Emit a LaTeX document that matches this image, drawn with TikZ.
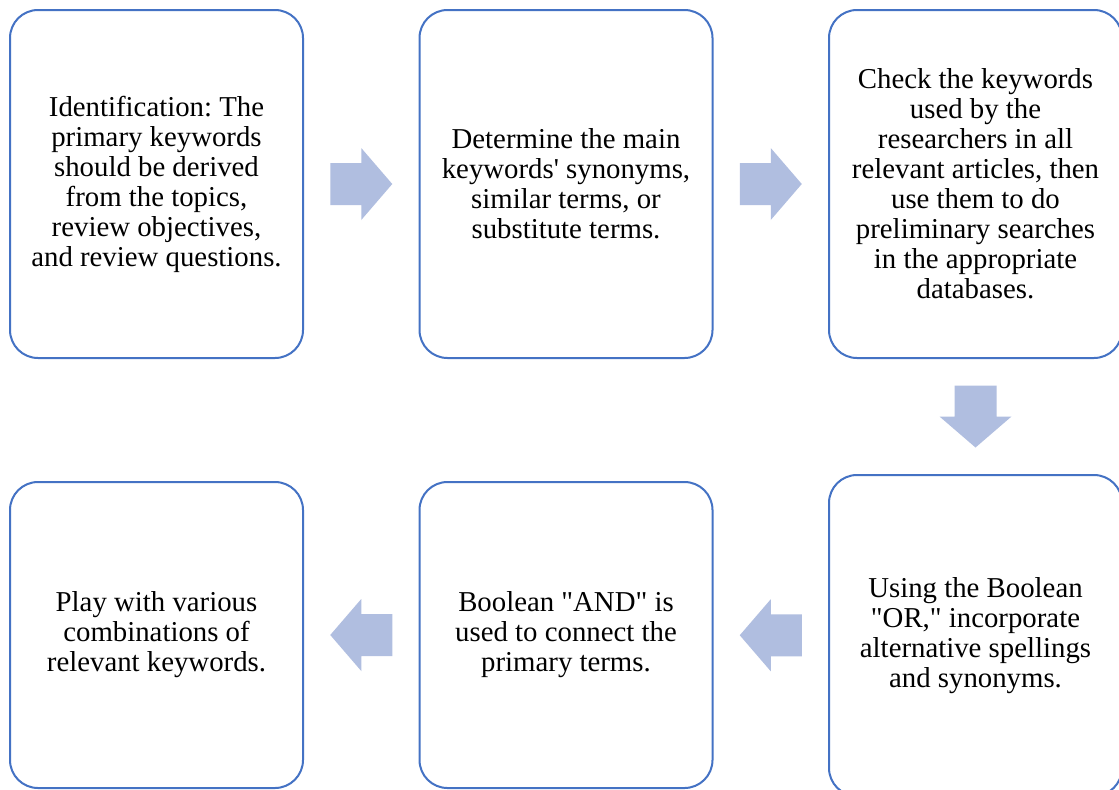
\documentclass[tikz,border=0pt]{standalone}
\usepackage{fontspec}
\setmainfont{Liberation Serif}[Ligatures=TeXOff]
\frenchspacing
\usetikzlibrary{calc}
\definecolor{boxline}{HTML}{4472C4}
\definecolor{arrowfill}{HTML}{B0BEE0}
\tikzset{
  box/.style={draw=boxline, line width=1.5pt, rounded corners=21pt, fill=white,
    minimum width=219.75pt, inner sep=0pt, align=center,
    font=\fontsize{21.6}{22.5}\selectfont},
  blockarr/.pic={\fill[arrowfill] (-31,-21) -- (0,-21) -- (0,-36) -- (31,0) -- (0,36) -- (0,21) -- (-31,21) -- cycle;}
}
\begin{document}
\begin{tikzpicture}[x=0.75pt,y=-0.75pt]
\clip (0,0) rectangle (1119,789);
\fill[white] (0,0) rectangle (1119,789);
\node[box, minimum height=261pt] (b1) at (156.5,184) {Identification: The\\primary keywords\\should be derived\\from the topics,\\review objectives,\\and review questions.};
\node[box, minimum height=261pt] (b2) at (566,184) {Determine the main\\keywords' synonyms,\\similar terms, or\\substitute terms.};
\node[box, minimum height=261pt] (b3) at (975.5,184) {Check the keywords\\used by the\\researchers in all\\relevant articles, then\\use them to do\\preliminary searches\\in the appropriate\\databases.};
\node[box, minimum height=240.75pt] (b6) at (975.5,635.5) {Using the Boolean\\"OR," incorporate\\alternative spellings\\and synonyms.};
\node[box, minimum height=229.5pt] (b5) at (566,635) {Boolean "AND" is\\used to connect the\\primary terms.};
\node[box, minimum height=229.5pt] (b4) at (156.5,635) {Play with various\\combinations of\\relevant keywords.};
\coordinate (a1) at ($(b1.east)!0.5!(b2.west)$);
\coordinate (a2) at ($(b2.east)!0.5!(b3.west)$);
\coordinate (a3) at ($(b3.south)!0.5!(b6.north)$);
\coordinate (a4) at ($(b6.west)!0.5!(b5.east)$);
\coordinate (a5) at ($(b5.west)!0.5!(b4.east)$);
\pic at (a1) {blockarr};
\pic at (a2) {blockarr};
\pic[rotate=-90] at (a3) {blockarr};
\pic[rotate=180] at (a4) {blockarr};
\pic[rotate=180] at (a5) {blockarr};
\end{tikzpicture}
\end{document}
